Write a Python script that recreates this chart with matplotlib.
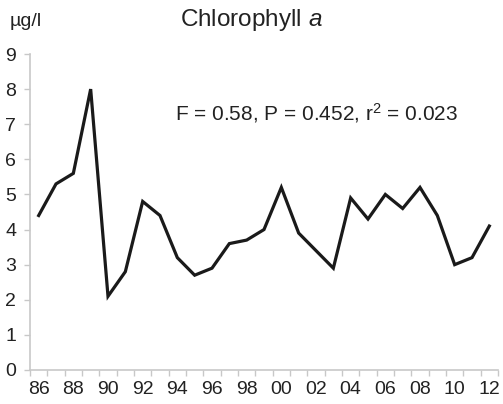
import numpy as np
from matplotlib import pyplot as plt

#data
years = ["86", "87", "88", "89", "90", "91", "92", "93", "94", "95", "96", "97", "98", "99",
         "00", "01", "02", "03", "04", "05", "06", "07", "08", "09", "10", "11", "12"]
chl = [4.4, 5.3, 5.6, 8.0, 2.1, 2.8, 4.8, 4.4, 3.2, 2.7, 2.9, 3.6, 3.7, 4.0,
       5.2, 3.9, 3.4, 2.9, 4.9, 4.3, 5.0, 4.6, 5.2, 4.4, 3.0, 3.2, 4.1]
stats_text = "F = 0.58, P = 0.452, r$^{2}$ = 0.023"

plt.rcParams['font.family'] = ['Liberation Sans', 'DejaVu Sans']
plt.rcParams['mathtext.fontset'] = 'custom'
plt.rcParams['mathtext.rm'] = 'Liberation Sans'
plt.rcParams['mathtext.it'] = 'Liberation Sans:italic'

axis_grey = "#c8c8c8"
text_col = "#222222"

fig = plt.figure(figsize=(5.03, 4.04), dpi=100)
ax = fig.add_axes([30/503, 1-370/404, 468/503, 316/404])

x = np.arange(len(years))
ax.plot(x, chl, color="#1a1a1a", linewidth=2.3, solid_joinstyle="miter")

ax.set_xlim(-0.5, len(years) - 0.5)
ax.set_ylim(0, 9)

#labels on every other year, tick marks between categories
ax.set_xticks(x[::2])
ax.set_xticklabels(years[::2])
ax.set_xticks(np.arange(-0.5, len(years)), minor=True)
ax.tick_params(axis="x", which="major", length=0, pad=8, labelsize=14, labelcolor=text_col)
ax.tick_params(axis="x", which="minor", length=4, color=axis_grey, width=1)
ax.set_yticks(range(10))
ax.tick_params(axis="y", length=4, color=axis_grey, width=1, pad=6, labelsize=14, labelcolor=text_col)

for side in ["top", "right"]:
    ax.spines[side].set_visible(False)
for side in ["left", "bottom"]:
    ax.spines[side].set_color(axis_grey)
    ax.spines[side].set_linewidth(1.2)

fig.text(251/503, 1-20/404, "Chlorophyll $a$", ha="center", va="center", fontsize=17.5, color=text_col)
fig.text(26/503, 1-21/404, "µg/l", ha="center", va="center", fontsize=14, color=text_col)
fig.text(317/503, 1-113/404, stats_text, ha="center", va="center", fontsize=15, color=text_col)

fig.savefig("out.png", dpi=100)
